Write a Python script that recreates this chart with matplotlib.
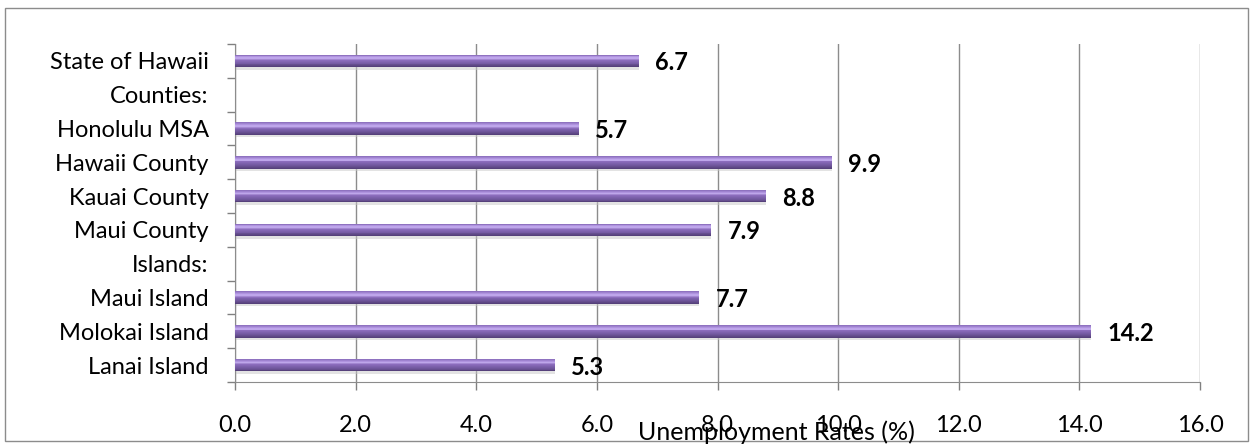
import numpy as np
import matplotlib.pyplot as plt
from matplotlib.colors import LinearSegmentedColormap
from matplotlib.patches import Rectangle

plt.rcParams['font.family'] = ['Lato', 'DejaVu Sans']

# data, top to bottom
categories = ['State of Hawaii', 'Counties:', 'Honolulu MSA', 'Hawaii County',
              'Kauai County', 'Maui County', 'Islands:', 'Maui Island',
              'Molokai Island', 'Lanai Island']
rates = [6.7, np.nan, 5.7, 9.9, 8.8, 7.9, np.nan, 7.7, 14.2, 5.3]
xticks = [0, 2, 4, 6, 8, 10, 12, 14, 16]

fig = plt.figure(figsize=(12.53, 4.48), dpi=100)
ax = fig.add_axes([0.1876, 0.1473, 0.7701, 0.7545])

n = len(categories)
y = np.arange(n)[::-1]
vals = np.array(rates)
h = 0.37

# vertical colour profile of the bar (bottom -> top)
shade = LinearSegmentedColormap.from_list(
    'bar', [(0.0, '#56417b'), (0.25, '#71589e'), (0.55, '#8c6dbd'),
            (0.72, '#c7b0f2'), (0.85, '#ae92de'), (1.0, '#8f72c0')])

# soft shadow under bars
ax.barh(y - h / 2 - 0.035, vals, height=0.08, color='#c8c8c8', alpha=0.5, zorder=2)

k = 14
for j in range(k):
    off = -h / 2 + (j + 0.5) * h / k
    ax.barh(y + off, vals, height=h / k * 1.05, color=shade(j / (k - 1)),
            linewidth=0, zorder=3)

for yi, v in zip(y, vals):
    if np.isnan(v):
        continue
    ax.text(v + 0.27, yi - 0.06, f'{v:.1f}', va='center', ha='left',
            fontsize=17, fontweight='bold', color='black', zorder=6)

ax.set_xlim(0, 16)
ax.set_ylim(-0.5, n - 0.5)
ax.set_xticks(xticks)
ax.set_xticklabels([f'{t:.1f}' for t in xticks], fontsize=17)
ax.set_yticks(y)
ax.set_yticklabels(categories, fontsize=17)
ax.set_yticks(np.arange(n + 1) - 0.5, minor=True)
ax.tick_params(axis='y', which='major', length=0, pad=19)
ax.tick_params(axis='y', which='minor', length=6, color='#808080', width=1)
ax.tick_params(axis='x', length=6, color='#808080', width=1, pad=18)

ax.grid(axis='x', color='#8c8c8c', linewidth=1, zorder=0)
ax.set_axisbelow(True)
for s in ['top', 'right']:
    ax.spines[s].set_visible(False)
for s in ['left', 'bottom']:
    ax.spines[s].set_color('#8c8c8c')

# axis title sits low and right, partly over the tick labels as in the original
fig.text(0.620, 0.036, 'Unemployment Rates (%)', ha='center', va='center', fontsize=18)

fig.patches.append(Rectangle((0.004, 0.016), 0.992, 0.966, transform=fig.transFigure,
                             fill=False, edgecolor='#8c8c8c', linewidth=1))

fig.savefig('out.png', dpi=100)
